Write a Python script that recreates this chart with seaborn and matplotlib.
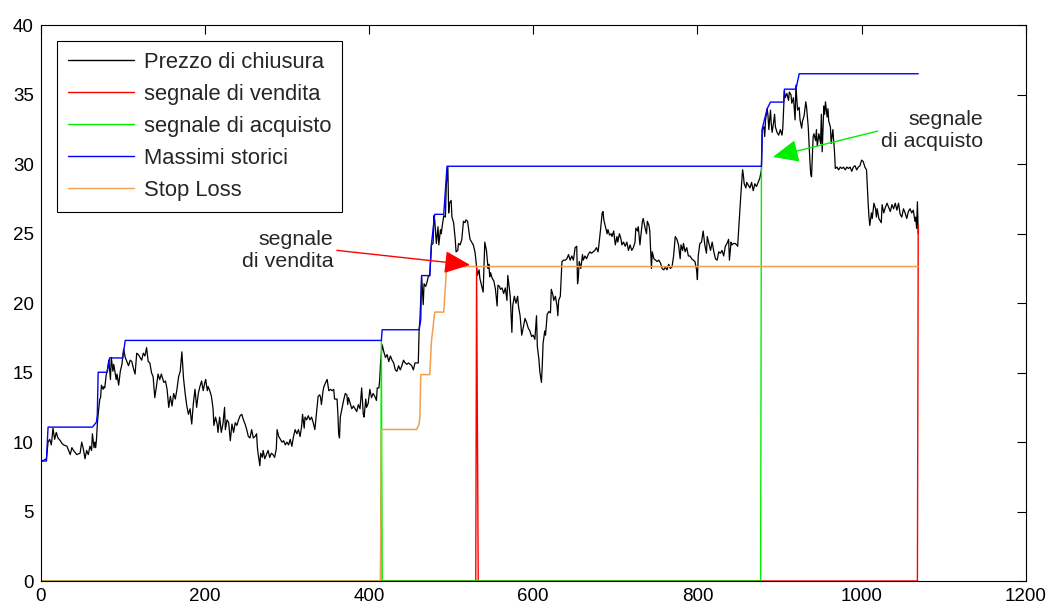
import numpy as np
import pandas as pd
import matplotlib
matplotlib.use("Agg")
import matplotlib.pyplot as plt
import seaborn as sns
from matplotlib.lines import Line2D

# closing price (day, price)
closing = [
    (0, 8.6), (4, 8.7), (7, 8.8), (9, 10.0), (11, 10.2), (13, 9.8), (15, 11.0), (17, 10.2), (19, 10.7), (21, 10.3),
    (24, 10.1), (26, 9.9), (28, 9.8), (32, 9.7), (34, 9.4), (36, 9.1), (38, 9.6), (40, 9.4), (44, 9.1), (48, 9.2),
    (50, 10.0), (52, 9.5), (54, 8.8), (56, 9.4), (58, 9.1), (60, 9.7), (62, 9.4), (63, 10.6), (65, 9.6), (66, 10.0),
    (67, 9.6), (68, 10.2), (69, 11.3), (70, 12.0), (72, 13.1), (73, 13.2), (74, 14.1), (76, 13.8), (77, 14.0), (78, 13.9),
    (80, 14.9), (81, 15.1), (83, 15.9), (85, 14.5), (86, 16.1), (88, 15.1), (89, 15.6), (92, 14.5), (93, 14.9), (95, 14.1),
    (97, 15.1), (99, 15.6), (101, 16.7), (103, 16.1), (105, 15.8), (107, 15.5), (109, 15.9), (111, 15.8), (113, 15.3),
    (115, 14.9), (117, 16.4), (119, 16.3), (121, 16.1), (123, 15.9), (125, 16.4), (127, 16.2), (129, 16.8), (131, 15.8),
    (133, 15.7), (135, 15.0), (137, 14.7), (139, 13.2), (141, 14.0), (143, 14.9), (145, 14.5), (147, 14.9), (150, 14.3),
    (152, 14.4), (154, 13.8), (156, 12.5), (158, 13.3), (160, 12.6), (162, 13.5), (164, 13.1), (166, 13.8), (168, 14.7),
    (170, 15.1), (172, 16.5), (174, 14.6), (176, 13.5), (178, 12.6), (180, 12.0), (182, 12.4), (184, 11.3), (186, 12.8),
    (188, 13.8), (190, 12.5), (192, 13.5),
    (194, 14.0), (196, 14.4), (198, 13.7), (200, 14.3), (201, 14.5), (203, 13.7), (204, 14.0), (206, 13.7), (208, 13.3),
    (210, 12.4), (211, 11.2), (213, 11.8), (215, 11.3), (216, 10.7), (218, 11.8), (220, 10.7), (222, 11.3), (224, 12.5),
    (225, 10.9), (227, 11.6), (229, 11.4), (231, 10.1), (233, 11.3), (235, 10.7), (237, 11.4), (239, 11.2), (241, 11.6),
    (243, 11.9), (245, 12.0), (247, 11.6), (249, 11.3), (251, 10.9), (253, 10.4), (255, 10.3), (257, 10.9), (259, 10.3),
    (261, 10.4), (263, 10.6), (264, 9.6), (265, 9.1), (267, 8.3), (268, 9.2), (270, 8.9), (271, 9.4), (273, 8.8),
    (275, 9.1), (277, 9.4), (279, 8.9), (281, 9.2), (283, 9.1), (285, 8.9), (287, 9.5), (288, 10.9), (290, 10.4),
    (292, 10.2), (294, 10.0), (296, 10.1), (298, 9.8), (300, 10.0), (302, 9.8), (304, 10.2), (306, 9.7), (308, 10.4),
    (310, 10.9), (312, 10.6), (314, 10.9), (316, 10.4), (318, 11.2), (319, 12.0), (321, 11.0), (322, 11.8), (324, 11.6),
    (326, 11.9), (328, 11.6), (330, 11.8), (332, 11.4), (334, 10.9), (336, 12.1), (338, 13.3), (340, 13.4), (341, 13.2),
    (342, 12.7), (344, 13.7), (345, 14.0), (348, 14.4), (349, 14.5), (351, 13.7), (353, 13.8), (355, 13.7), (357, 13.8),
    (358, 13.1), (361, 13.1), (362, 12.1), (363, 10.6), (364, 10.3), (365, 11.8), (367, 12.4), (369, 13.0), (371, 13.5),
    (373, 13.4), (374, 12.7), (375, 13.2), (377, 12.8), (379, 12.4), (381, 12.6), (383, 12.4), (385, 12.2), (387, 12.7),
    (389, 12.4), (391, 13.9), (393, 12.0), (394, 11.8), (396, 13.1), (397, 12.5), (399, 12.8),
    (401, 13.8), (403, 13.2), (405, 13.5), (407, 13.3), (409, 13.0), (410, 13.9), (412, 13.9), (413, 14.5), (414, 15.7),
    (416, 17.0), (418, 16.5), (420, 16.1), (422, 16.3), (424, 15.8), (426, 16.2), (428, 15.9), (430, 15.7), (432, 15.2),
    (434, 15.1), (436, 15.5), (438, 15.2), (440, 15.5), (442, 15.9), (444, 15.7), (446, 15.6), (448, 15.7), (450, 15.6),
    (452, 15.5), (454, 15.2), (456, 15.7), (458, 15.7), (460, 15.7), (461, 18.1), (462, 18.8), (464, 21.9), (465, 21.0),
    (466, 19.9), (467, 21.4), (469, 21.2), (471, 21.6), (472, 21.9), (474, 22.0), (476, 24.2), (478, 24.3), (479, 26.3),
    (480, 26.0), (482, 24.3), (484, 25.5), (485, 24.2), (487, 25.3), (488, 25.0), (489, 25.5), (491, 26.3), (493, 26.2),
    (494, 28.4), (496, 29.8), (497, 26.5), (498, 27.2), (500, 27.4), (501, 26.2), (503, 25.8), (505, 24.6), (506, 23.7),
    (508, 23.8), (509, 24.3), (511, 24.2), (513, 24.6), (515, 25.9), (517, 25.8), (518, 26.0), (520, 25.9), (522, 25.0),
    (523, 24.6), (525, 24.4), (527, 24.2), (529, 23.7), (530, 23.2), (532, 22.0), (534, 22.4), (535, 21.8), (537, 21.3),
    (539, 20.8), (541, 24.4), (542, 24.1), (543, 23.8), (545, 22.5), (546, 22.8), (547, 21.9), (548, 22.2), (550, 21.8),
    (552, 21.6), (554, 21.0), (556, 19.8), (557, 21.3), (559, 21.2), (560, 21.0), (562, 21.1), (564, 20.7), (566, 21.1),
    (568, 20.2), (569, 22.0), (571, 21.0), (572, 20.5), (574, 17.9), (575, 19.8), (577, 20.5), (579, 20.0), (581, 20.5),
    (582, 19.8),
    (584, 19.1), (586, 17.7), (588, 18.3), (590, 18.9), (592, 18.6), (594, 18.2), (596, 18.0), (598, 17.6), (600, 17.7),
    (602, 17.4), (604, 19.1), (605, 16.9), (607, 15.9), (608, 15.1), (610, 14.3), (611, 15.5), (612, 17.1), (614, 18.0),
    (615, 17.7), (617, 19.2), (619, 19.4), (621, 19.3), (622, 21.0), (624, 20.6), (625, 20.2), (627, 20.5), (629, 19.8),
    (630, 19.1), (631, 20.2), (633, 20.5), (634, 21.7), (635, 23.0), (637, 23.1), (639, 23.1), (641, 23.2), (643, 23.5),
    (645, 23.1), (647, 23.4), (649, 23.1), (651, 24.0), (653, 24.1), (654, 21.4), (655, 21.9), (656, 23.0), (658, 22.5),
    (660, 23.5), (661, 23.1), (663, 23.4), (665, 23.2), (667, 23.5), (669, 23.7), (671, 23.6), (673, 23.7), (675, 23.8),
    (677, 24.0), (679, 23.7), (680, 24.2), (682, 25.3), (684, 26.5), (685, 26.6), (686, 26.0), (688, 25.5), (690, 25.0),
    (691, 25.3), (693, 24.9), (695, 25.0), (696, 24.8), (698, 25.2), (700, 24.2), (702, 24.8), (703, 24.4), (705, 25.0),
    (707, 24.6), (708, 24.2), (710, 24.4), (712, 24.1), (714, 24.4), (716, 23.8), (718, 24.2), (720, 23.8), (722, 24.0),
    (724, 24.4), (725, 25.4), (727, 25.2), (728, 25.5), (730, 24.2), (731, 24.8), (733, 25.9), (734, 26.1), (736, 25.5),
    (738, 25.0), (739, 25.9), (741, 25.6), (742, 25.2), (744, 22.5), (745, 23.7), (747, 23.2), (749, 23.1), (751, 23.0),
    (753, 23.1), (755, 22.9), (757, 22.5), (759, 22.4), (761, 22.6), (763, 22.4), (765, 22.8), (767, 22.5), (769, 22.6),
    (771, 23.4), (773, 24.8), (775, 24.6), (777, 24.2), (779, 23.2), (780, 24.2), (782, 23.8), (783, 24.3), (785, 23.7),
    (787, 24.0), (789, 23.4), (791, 23.4), (793, 23.2), (795, 23.1), (797, 23.0), (799, 22.4), (800, 21.7), (801, 23.4),
    (803, 24.3),
    (805, 24.4), (807, 25.2), (809, 24.2), (811, 23.6), (812, 24.8), (814, 24.3), (816, 23.8), (818, 24.4), (820, 23.7),
    (822, 23.2), (824, 23.1), (826, 23.7), (828, 23.6), (830, 23.8), (832, 23.4), (834, 24.1), (836, 24.3), (838, 24.6),
    (839, 23.1), (841, 24.4), (842, 24.2), (844, 24.3), (846, 24.3), (848, 24.2), (849, 24.1), (851, 26.0), (853, 27.9),
    (855, 29.6), (856, 29.2), (857, 28.6), (859, 28.3), (860, 28.7), (862, 28.5), (864, 28.3), (866, 28.7), (868, 28.1),
    (870, 28.6), (872, 28.4), (874, 28.7), (876, 29.0), (878, 29.6), (879, 32.5), (881, 32.7), (882, 32.0), (883, 33.2),
    (885, 34.0), (886, 33.5), (887, 32.5), (889, 33.9), (890, 32.9), (891, 32.3), (893, 33.1), (894, 33.6), (895, 32.7),
    (897, 32.3), (899, 32.1), (901, 32.5), (903, 32.1), (904, 32.6), (906, 35.3), (907, 34.8), (909, 35.1), (911, 34.6),
    (912, 35.2), (914, 35.0), (915, 34.4), (917, 34.8), (919, 33.2), (920, 35.7), (922, 33.9), (924, 34.1), (925, 33.2),
    (927, 32.6), (928, 33.1), (930, 33.5), (932, 34.5), (933, 34.1), (934, 33.4), (935, 32.7), (936, 31.5), (937, 30.3),
    (938, 29.3), (939, 29.1), (941, 32.0), (942, 32.2), (944, 31.7), (945, 32.5), (946, 31.3), (948, 32.2), (950, 31.5),
    (951, 33.6), (952, 30.9), (954, 34.2), (955, 33.6), (956, 34.5), (958, 33.4), (959, 34.0), (960, 33.1), (962, 32.7),
    (963, 31.5), (965, 32.5), (966, 31.7), (967, 30.9), (968, 29.7), (970, 29.8), (972, 29.6), (974, 29.8), (976, 29.7),
    (978, 29.8), (980, 29.6), (982, 29.8), (984, 29.7), (986, 29.8), (988, 29.5), (990, 29.8), (992, 29.9), (994, 29.6),
    (996, 29.8), (998, 29.9), (1000, 30.3), (1002, 30.2), (1004, 29.8), (1006, 29.6), (1007, 28.4), (1008, 27.2),
    (1009, 26.2), (1010, 25.6), (1012, 26.5), (1013, 26.1), (1015, 27.2), (1017, 26.8), (1018, 26.2), (1019, 26.8),
    (1021, 26.1), (1024, 25.8), (1025, 27.1), (1027, 26.5), (1029, 26.9), (1031, 27.2), (1033, 26.9), (1035, 26.6),
    (1037, 27.1), (1039, 26.8), (1041, 27.2), (1043, 26.7), (1045, 27.2), (1047, 26.4), (1049, 26.2), (1051, 26.8),
    (1053, 26.5), (1055, 26.1), (1057, 26.6), (1059, 26.8), (1061, 26.5), (1063, 26.7), (1065, 25.9), (1066, 26.2),
    (1067, 25.4), (1068, 27.3), (1069, 25.0),
]

# sell signal (0 except on the sell days)
sell_days = [0, 530, 531, 533, 1068, 1069]
sell_vals = [0, 0, 22.6, 0, 0, 25.6]

# buy signal
buy_days = [0, 414, 415, 416, 877, 878]
buy_vals = [0, 0, 17.3, 0, 0, 29.8]

# historical highs (running maximum)
max_days = [0, 7, 9, 63, 68, 69, 70, 81, 84, 100, 103, 415, 416, 461, 463, 464, 474, 476, 480, 491, 495,
            878, 879, 885, 889, 905, 906, 920, 924, 1069]
max_vals = [8.64, 8.64, 11.08, 11.08, 11.44, 11.99, 15.03, 15.03, 16.06, 16.06, 17.32, 17.32, 18.09, 18.09, 18.8,
            21.99, 21.99, 24.24, 26.4, 26.4, 29.86, 29.86, 32.57, 34.0, 34.48, 34.48, 35.41, 35.41, 36.52, 36.52]

# stop loss level
stop_days = [0, 414, 415, 458, 461, 462, 463, 474, 476, 480, 491, 494, 496, 1069]
stop_vals = [0, 0, 10.91, 10.91, 11.3, 11.9, 14.86, 14.86, 17.25, 19.36, 19.36, 22.16, 22.64, 22.64]

labels = ["Prezzo di chiusura", "segnale di vendita", "segnale di acquisto", "Massimi storici", "Stop Loss"]
colors = ["#000000", "#ff0000", "#00ee00", "#0000ff", "#f0a050"]

days, close = zip(*closing)

sns.set_theme(style="white")
plt.rcParams["font.family"] = ["Liberation Sans", "DejaVu Sans"]

fig = plt.figure(figsize=(10.51, 6.08), dpi=100)
ax = fig.add_axes([0.0387, 0.0444, 0.9373, 0.9138])

series = [(days, close), (sell_days, sell_vals), (buy_days, buy_vals), (max_days, max_vals), (stop_days, stop_vals)]
widths = [0.9, 1.0, 1.0, 1.0, 1.1]
for (xs, ys), c, lw in zip(series, colors, widths):
    sns.lineplot(x=list(xs), y=list(ys), color=c, linewidth=lw, sort=False, estimator=None, ax=ax)

ax.set_xlim(0, 1200)
ax.set_ylim(0, 40)
ax.set_xticks(range(0, 1201, 200))
ax.set_yticks(range(0, 41, 5))
ax.set_xlabel("")
ax.set_ylabel("")
ax.tick_params(direction="in", top=True, right=True, length=6.5, width=0.8,
               labelsize=13.5, pad=5, colors="black")
for s in ax.spines.values():
    s.set_visible(True)
    s.set_color("black")
    s.set_linewidth(0.8)

handles = [Line2D([0], [0], color=c, lw=1.0) for c in colors]
leg = ax.legend(handles, labels, loc="upper left", bbox_to_anchor=(0.0169, 0.9725), borderaxespad=0,
                fontsize=15.8, frameon=True, fancybox=False, framealpha=1, edgecolor="black",
                handlelength=3.0, handletextpad=0.45, borderpad=0.5, labelspacing=0.5)
leg.get_frame().set_linewidth(0.8)

ax.annotate("segnale\ndi vendita", xy=(523, 22.76), xytext=(356.8, 23.83),
            ha="right", va="center", fontsize=15.4,
            arrowprops=dict(arrowstyle="-|>,head_length=0.8,head_width=0.35", mutation_scale=20,
                            color="red", lw=1.0, relpos=(1, 0.5), shrinkA=0, shrinkB=0))
ax.annotate("segnale\ndi acquisto", xy=(892, 30.53), xytext=(1148, 32.45),
            ha="right", va="center", fontsize=15.4,
            arrowprops=dict(arrowstyle="-|>,head_length=0.8,head_width=0.35", mutation_scale=20,
                            color="#00ee00", lw=1.0, relpos=(0, 0.5), shrinkA=0, shrinkB=0))

fig.savefig("out.png", dpi=100)
